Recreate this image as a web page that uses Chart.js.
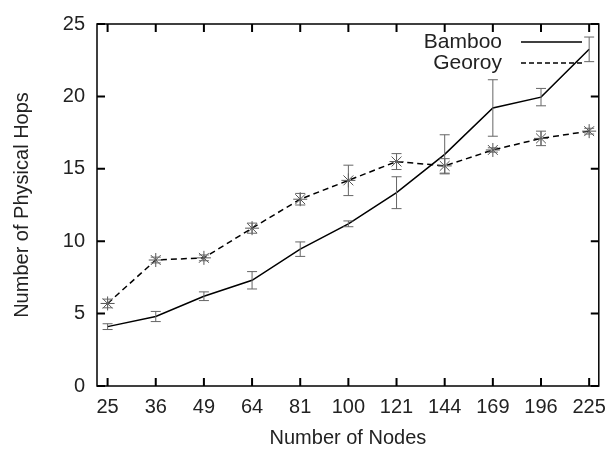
<!DOCTYPE html>
<html lang="en">
<head>
  <meta charset="UTF-8">
  <title>Number of Physical Hops</title>
  <script src="https://cdn.jsdelivr.net/npm/chart.js"></script>
  <style>
    html, body { margin: 0; padding: 0; background: #fff; }
    #wrap { width: 615px; height: 451px; }
  </style>
</head>
<body>
  <div id="wrap"><canvas id="hopsChart" width="615" height="451"></canvas></div>

  <script>
    // data
    const nodeLabels = ['25', '36', '49', '64', '81', '100', '121', '144', '169', '196', '225'];
    const bambooHops = [4.1, 4.8, 6.2, 7.3, 9.45, 11.2, 13.35, 16.0, 19.2, 19.95, 23.25];
    const bambooErr  = [0.2, 0.35, 0.3, 0.6, 0.5, 0.2, 1.1, 1.35, 1.95, 0.6, 0.85];
    const georoyHops = [5.7, 8.7, 8.85, 10.9, 12.9, 14.2, 15.5, 15.2, 16.3, 17.1, 17.6];
    const georoyErr  = [0.3, 0.2, 0.2, 0.35, 0.4, 1.05, 0.55, 0.5, 0.15, 0.5, 0.2];
    const yTicks = [0, 5, 10, 15, 20, 25];

    const font = 'Liberation Sans, Arial, Helvetica, sans-serif';

    function toPoints(vals) {
      return vals.map((v, i) => ({ x: i, y: v }));
    }

    // error bars, frame and inward ticks, legend
    const gnuplotLook = {
      id: 'gnuplotLook',
      afterDatasetsDraw(chart) {
        const ctx = chart.ctx;
        const xs = chart.scales.x, ys = chart.scales.y;
        const errs = [bambooErr, georoyErr];
        ctx.save();
        ctx.strokeStyle = '#666';
        ctx.lineWidth = 1;
        chart.data.datasets.forEach((ds, d) => {
          ds.data.forEach((p, i) => {
            const x = xs.getPixelForValue(p.x);
            const y1 = ys.getPixelForValue(p.y - errs[d][i]);
            const y2 = ys.getPixelForValue(p.y + errs[d][i]);
            ctx.beginPath();
            ctx.moveTo(x, y1); ctx.lineTo(x, y2);
            ctx.moveTo(x - 5, y1); ctx.lineTo(x + 5, y1);
            ctx.moveTo(x - 5, y2); ctx.lineTo(x + 5, y2);
            ctx.stroke();
          });
        });

        // frame
        const a = chart.chartArea;
        ctx.strokeStyle = '#000';
        ctx.lineWidth = 1.5;
        ctx.strokeRect(a.left, a.top, a.right - a.left, a.bottom - a.top);
        ctx.lineWidth = 2;
        ctx.beginPath();
        nodeLabels.forEach((_, i) => {
          const x = xs.getPixelForValue(i);
          ctx.moveTo(x, a.bottom); ctx.lineTo(x, a.bottom - 8);
          ctx.moveTo(x, a.top); ctx.lineTo(x, a.top + 8);
        });
        yTicks.forEach(v => {
          const y = ys.getPixelForValue(v);
          ctx.moveTo(a.left, y); ctx.lineTo(a.left + 8, y);
          ctx.moveTo(a.right, y); ctx.lineTo(a.right - 8, y);
        });
        ctx.stroke();

        // legend
        ctx.fillStyle = '#222';
        ctx.font = '21px ' + font;
        ctx.textAlign = 'right';
        ctx.textBaseline = 'middle';
        const names = ['Bamboo', 'Georoy'];
        names.forEach((n, k) => {
          const y = 42 + k * 21;
          ctx.fillText(n, 502, y);
          ctx.strokeStyle = '#000';
          ctx.lineWidth = 1.5;
          ctx.setLineDash(k === 0 ? [] : [5, 3]);
          ctx.beginPath();
          ctx.moveTo(521, y); ctx.lineTo(582, y);
          ctx.stroke();
          ctx.setLineDash([]);
        });
        ctx.restore();
      }
    };

    const ctx = document.getElementById('hopsChart').getContext('2d');
    new Chart(ctx, {
      type: 'line',
      data: {
        datasets: [{
          label: 'Bamboo',
          data: toPoints(bambooHops),
          borderColor: '#000',
          borderWidth: 1.5,
          pointRadius: 0,
          fill: false
        }, {
          label: 'Georoy',
          data: toPoints(georoyHops),
          borderColor: '#000',
          borderWidth: 1.5,
          borderDash: [6, 4],
          pointStyle: 'star',
          pointRadius: 7,
          pointBorderColor: '#555',
          pointBorderWidth: 1,
          fill: false
        }]
      },
      options: {
        responsive: false,
        animation: false,
        layout: { padding: { top: 22, right: 7, left: 0, bottom: 0 } },
        plugins: {
          legend: { display: false },
          tooltip: { enabled: false }
        },
        scales: {
          x: {
            type: 'linear',
            min: -0.22,
            max: 10.2,
            afterBuildTicks(scale) {
              scale.ticks = nodeLabels.map((_, i) => ({ value: i }));
            },
            afterFit(scale) { scale.height = 65; },
            grid: { display: false, drawTicks: false },
            border: { display: false },
            ticks: {
              color: '#222',
              font: { family: font, size: 20 },
              padding: 9,
              maxRotation: 0,
              autoSkip: false,
              callback: v => nodeLabels[v]
            },
            title: {
              display: true,
              text: 'Number of Nodes',
              color: '#222',
              font: { family: font, size: 20 },
              padding: { top: 4, bottom: 1 }
            }
          },
          y: {
            min: 0,
            max: 25,
            afterBuildTicks(scale) {
              scale.ticks = yTicks.map(v => ({ value: v }));
            },
            afterFit(scale) { scale.width = 97; },
            grid: { display: false, drawTicks: false },
            border: { display: false },
            ticks: {
              color: '#222',
              font: { family: font, size: 20 },
              padding: 12
            },
            title: {
              display: true,
              text: 'Number of Physical Hops',
              color: '#222',
              font: { family: font, size: 20 },
              padding: { top: 10, bottom: 0 }
            }
          }
        }
      },
      plugins: [gnuplotLook]
    });
  </script>
</body>
</html>
